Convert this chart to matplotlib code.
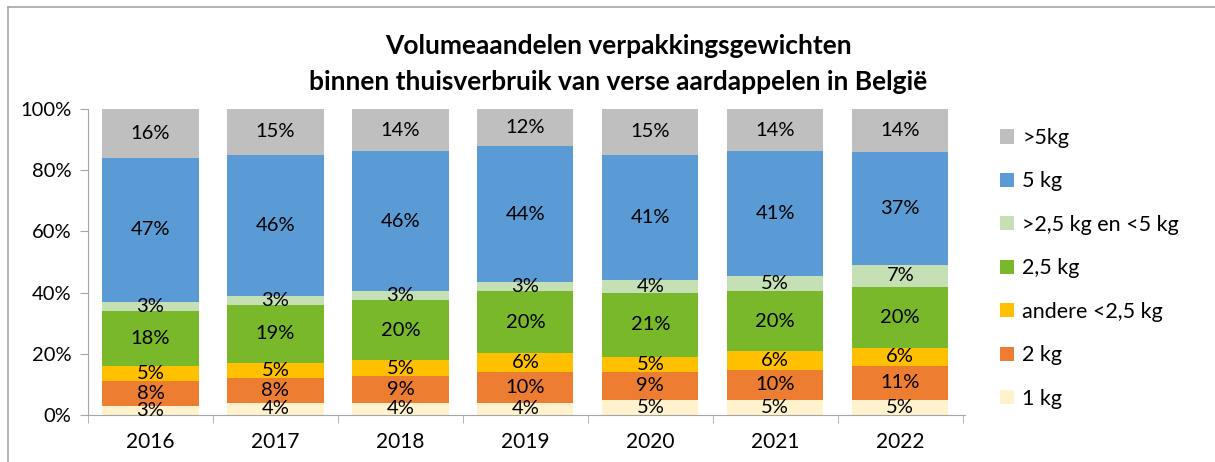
import numpy as np
import matplotlib.pyplot as plt
from matplotlib.lines import Line2D
from matplotlib.patches import Patch

plt.rcParams['font.family'] = ['Lato', 'DejaVu Sans']

jaren = ['2016', '2017', '2018', '2019', '2020', '2021', '2022']

# Aandelen per verpakkingsgewicht (%), van onder naar boven
kg1 = [3, 4, 4, 4, 5, 5, 5]
kg2 = [8, 8, 9, 10, 9, 10, 11]
andere = [5, 5, 5, 6, 5, 6, 6]
kg25 = [18, 19, 20, 20, 21, 20, 20]
tussen = [3, 3, 3, 3, 4, 5, 7]
kg5 = [47, 46, 46, 44, 41, 41, 37]
boven5 = [16, 15, 14, 12, 15, 14, 14]

reeksen = [kg1, kg2, andere, kg25, tussen, kg5, boven5]
namen = ['1 kg', '2 kg', 'andere <2,5 kg', '2,5 kg', '>2,5 kg en <5 kg', '5 kg', '>5kg']
kleuren = ['#FFF2CC', '#ED7D31', '#FFC000', '#78B82A', '#C5E0B4', '#5B9BD5', '#BFBFBF']

data = np.array(reeksen, dtype=float)
hoogtes = data / data.sum(axis=0)  # 100% gestapeld

fig = plt.figure(figsize=(12.15, 4.62), dpi=100)
ax = fig.add_axes([0.0724, 0.1017, 0.72, 0.6623])

x = np.arange(len(jaren))
onder = np.zeros(len(jaren))
for h, vals, naam, kleur in zip(hoogtes, data, namen, kleuren):
    ax.bar(x, h, bottom=onder, width=0.77, color=kleur, label=naam)
    for xi, b, hi, v in zip(x, onder, h, vals):
        ax.text(xi, b + hi / 2, f'{v:.0f}%', ha='center', va='center', fontsize=14.5)
    onder += h

ax.set_xlim(-0.5, len(jaren) - 0.5)
ax.set_ylim(0, 1)
ax.set_yticks(np.arange(0, 1.01, 0.2))
ax.set_yticklabels([f'{int(round(t * 100))}%' for t in np.arange(0, 1.01, 0.2)], fontsize=14.5)
ax.set_xticks(x)
ax.set_xticklabels(jaren, fontsize=15)
ax.set_xticks(np.arange(-0.5, len(jaren), 1), minor=True)
ax.tick_params(axis='x', which='major', length=0, pad=12)
ax.tick_params(axis='x', which='minor', length=6, color='#A6A6A6', direction='out')
ax.tick_params(axis='y', length=6, color='#A6A6A6', pad=6)
for s in ['top', 'right']:
    ax.spines[s].set_visible(False)
for s in ['left', 'bottom']:
    ax.spines[s].set_color('#A6A6A6')
ax.spines['bottom'].set_bounds(-0.5, len(jaren) - 0.5 + 0.02)

fig.text(0.509, 0.9, 'Volumeaandelen verpakkingsgewichten', ha='center', va='center',
         fontsize=19, fontweight='bold')
fig.text(0.509, 0.822, 'binnen thuisverbruik van verse aardappelen in België', ha='center',
         va='center', fontsize=19, fontweight='bold')

handles = [Patch(facecolor=k, edgecolor='none') for k in kleuren][::-1]
fig.legend(handles, namen[::-1], loc='upper left', bbox_to_anchor=(0.807, 0.765),
           frameon=False, fontsize=15.5, handlelength=0.65, handleheight=0.65,
           handletextpad=0.4, labelspacing=1.09)

# rand van het grafiekvlak
fig.add_artist(Line2D([0.0066, 0.0066], [0, 0.985], color='#A6A6A6', lw=1.2))
fig.add_artist(Line2D([0.0066, 1], [0.985, 0.985], color='#A6A6A6', lw=1.2))

fig.savefig('out.png', dpi=100)
